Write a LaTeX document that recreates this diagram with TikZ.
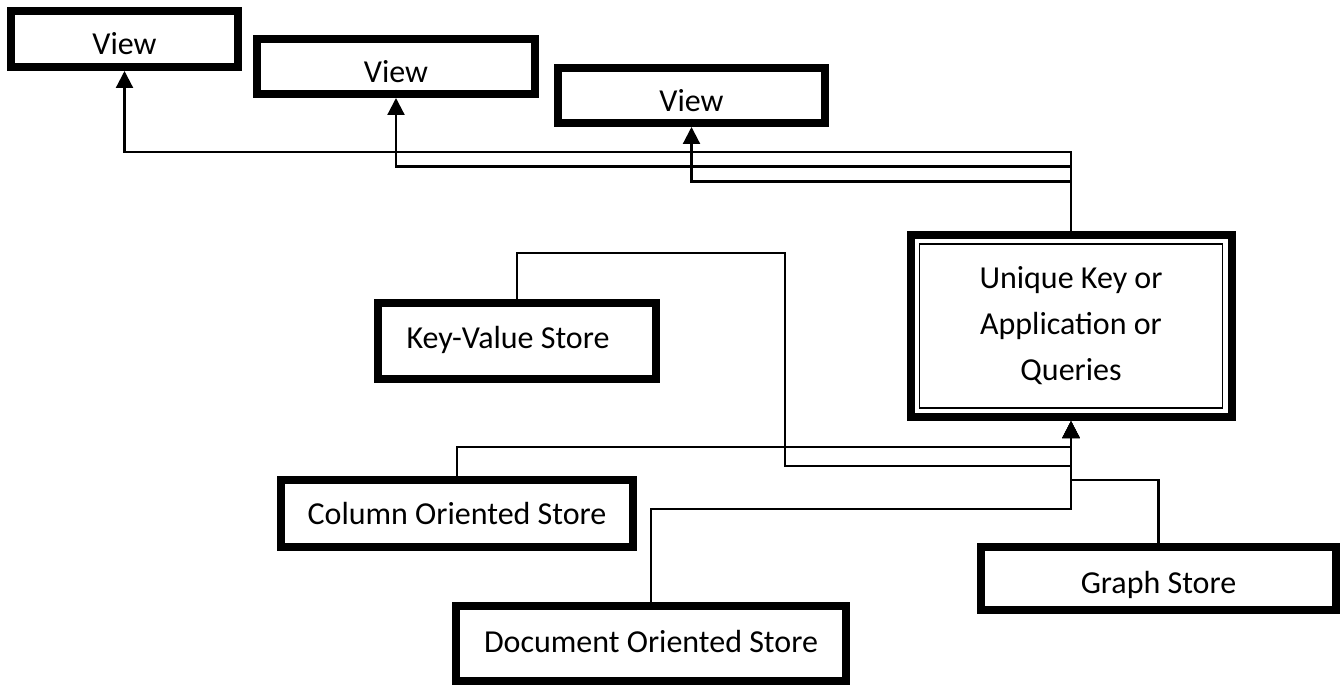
\documentclass[tikz,border=0pt]{standalone}
\usepackage{fontspec}
\setmainfont{Carlito}
\usetikzlibrary{arrows.meta}
\begin{document}
\begin{tikzpicture}[x=1pt,y=-1pt,
  box/.style={draw=black, line width=8pt, fill=white, inner sep=0pt,
    font=\fontsize{32}{46}\selectfont},
  lbl/.style={text depth=0pt},
  conn/.style={line width=2.2pt, line join=miter},
  arr/.style={conn, -{Triangle[length=17pt,width=17pt]}},
  thinframe/.style={line width=1.5pt}]
\useasboundingbox (0,0) rectangle (1340,687);
% views
\node[box, lbl, minimum width=227pt, minimum height=56pt, text height=32pt] (v1) at (124.5,39) {View};
\node[box, lbl, minimum width=278pt, minimum height=55pt, text height=32pt] (v2) at (396,66.5) {View};
\node[box, lbl, minimum width=267pt, minimum height=55pt, text height=33pt] (v3) at (691.5,95.5) {View};
% central box
\node[box, align=center, minimum width=321pt, minimum height=182pt] (u) at (1071,326)
  {Unique Key or\\Application or\\Queries};
\draw[thinframe] ([shift={(13pt,-13pt)}]u.north west) rectangle ([shift={(-13pt,13pt)}]u.south east);
% stores
\node[box, lbl, minimum width=278pt, minimum height=76pt, text height=14pt] (kv) at (517,341) {\hspace*{-18pt}Key-Value Store};
\node[box, lbl, minimum width=352pt, minimum height=67pt, text height=21pt] (col) at (457,513.5) {Column Oriented Store};
\node[box, lbl, minimum width=390pt, minimum height=75pt, text height=17pt] (doc) at (651,643.5) {Document Oriented Store};
\node[box, lbl, minimum width=355pt, minimum height=63pt, text height=29pt] (gr) at (1158.5,578.5) {Graph Store};
% connectors to views
\coordinate (t1) at (1071,152);
\coordinate (t2) at (1071,166.5);
\coordinate (t3) at (1071,181.5);
\draw[arr] (u.north) -- (t1) -| (v1.south);
\draw[arr] (u.north) -- (t2) -| (v2.south);
\draw[arr] (u.north) -- (t3) -| (v3.south);
% connectors from stores
\coordinate (kvA) at (785,253);
\coordinate (kvB) at (785,466);
\coordinate (colA) at (1071,447);
\coordinate (grA) at (1071,480);
\coordinate (docA) at (1071,509);
\draw[arr] (kv.north) |- (kvA) -- (kvB) -| (u.south);
\draw[arr] (col.north) |- (colA) -- (u.south);
\draw[arr] (gr.north) |- (grA) -- (u.south);
\draw[arr] (doc.north) |- (docA) -- (u.south);
\end{tikzpicture}
\end{document}
